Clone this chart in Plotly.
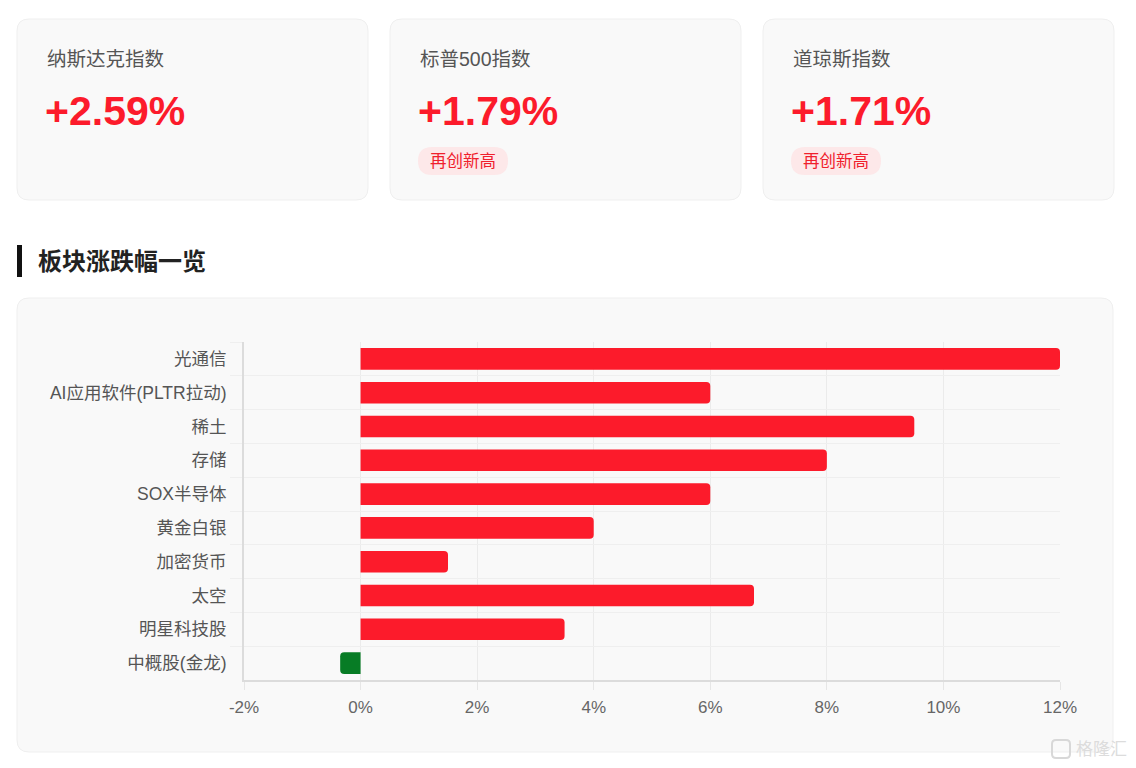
import plotly.graph_objects as go

# ---- data ----
index_names = ["纳斯达克指数", "标普500指数", "道琼斯指数"]
index_changes = ["+2.59%", "+1.79%", "+1.71%"]
index_badges = ["", "再创新高", "再创新高"]

sectors = ["光通信", "AI应用软件(PLTR拉动)", "稀土", "存储", "SOX半导体",
           "黄金白银", "加密货币", "太空", "明星科技股", "中概股(金龙)"]
sector_changes = [12.0, 6.0, 9.5, 8.0, 6.0, 4.0, 1.5, 6.75, 3.5, -0.35]
x_ticks = [-2, 0, 2, 4, 6, 8, 10, 12]
x_tick_labels = ["-2%", "0%", "2%", "4%", "6%", "8%", "10%", "12%"]

OFF = 8  # page body margin
W, H = 1128, 760
L, R, T, B = 244 - OFF, 76, 342 - OFF, 88
PW, PH = W - L - R, H - T - B

RED = "#fc1b2b"
GREEN = "#077c25"
FONT = "Liberation Sans, Noto Sans CJK SC, sans-serif"


def px(x):
    return (x - OFF - L) / PW


def py(y):
    return (H - B - (y - OFF)) / PH


def rrect(x0, y0, x1, y1, r):
    return (f"M {px(x0 + r)},{py(y0)} L {px(x1 - r)},{py(y0)} "
            f"Q {px(x1)},{py(y0)} {px(x1)},{py(y0 + r)} "
            f"L {px(x1)},{py(y1 - r)} Q {px(x1)},{py(y1)} {px(x1 - r)},{py(y1)} "
            f"L {px(x0 + r)},{py(y1)} Q {px(x0)},{py(y1)} {px(x0)},{py(y1 - r)} "
            f"L {px(x0)},{py(y0 + r)} Q {px(x0)},{py(y0)} {px(x0 + r)},{py(y0)} Z")


colors = [RED if v >= 0 else GREEN for v in sector_changes]

fig = go.Figure(go.Bar(
    x=sector_changes, y=sectors, orientation="h",
    marker=dict(color=colors, line=dict(width=0), cornerradius=4),
    width=0.64, hoverinfo="x+y",
))

shapes = []
annotations = []

# index cards
card_x = [17, 390, 763]
for i, x0 in enumerate(card_x):
    shapes.append(dict(type="path", xref="paper", yref="paper", layer="below",
                       path=rrect(x0, 19, x0 + 351, 200, 12),
                       fillcolor="#f9f9f9", line=dict(color="#efefef", width=1)))
    annotations.append(dict(xref="paper", yref="paper", x=px(x0 + 28), y=py(59),
                            text=index_names[i], showarrow=False, xanchor="left",
                            yanchor="middle", font=dict(family=FONT, size=19.5, color="#555555")))
    annotations.append(dict(xref="paper", yref="paper", x=px(x0 + 26), y=py(111),
                            text=f"<b>{index_changes[i]}</b>", showarrow=False, xanchor="left",
                            yanchor="middle", font=dict(family=FONT, size=41, color=RED)))
    if index_badges[i]:
        shapes.append(dict(type="path", xref="paper", yref="paper", layer="below",
                           path=rrect(x0 + 28, 147, x0 + 118, 175, 14),
                           fillcolor="#fde8e9", line=dict(width=0)))
        annotations.append(dict(xref="paper", yref="paper", x=px(x0 + 73), y=py(161),
                                text=index_badges[i], showarrow=False, xanchor="center",
                                yanchor="middle", font=dict(family=FONT, size=16.5, color="#f0202c")))

# section header
shapes.append(dict(type="rect", xref="paper", yref="paper", layer="above",
                   x0=px(17), x1=px(22), y0=py(245), y1=py(277),
                   fillcolor="#111111", line=dict(width=0)))
annotations.append(dict(xref="paper", yref="paper", x=px(36), y=py(261),
                        text="<b>板块涨跌幅一览</b>", showarrow=False, xanchor="left",
                        yanchor="middle", font=dict(family=FONT, size=24, color="#222222")))

# chart card
shapes.append(dict(type="path", xref="paper", yref="paper", layer="below",
                   path=rrect(17, 298, 1113, 752, 12),
                   fillcolor="#f9f9f9", line=dict(color="#efefef", width=1)))

# watermark
shapes.append(dict(type="path", xref="paper", yref="paper", layer="above",
                   path=rrect(1052, 740, 1070, 758, 4),
                   fillcolor="rgba(0,0,0,0)", line=dict(color="#d8d8d8", width=2)))
annotations.append(dict(xref="paper", yref="paper", x=px(1074), y=py(749),
                        text="格隆汇", showarrow=False, xanchor="left", yanchor="middle",
                        font=dict(family=FONT, size=17, color="#dcdcdc")))

fig.update_layout(
    width=W, height=H,
    margin=dict(l=L, r=R, t=T, b=B),
    paper_bgcolor="white", plot_bgcolor="#f9f9f9",
    showlegend=False,
    font=dict(family=FONT),
    shapes=shapes, annotations=annotations,
    xaxis=dict(range=[-2, 12], tickvals=x_ticks, ticktext=x_tick_labels,
               showgrid=True, gridcolor="#ebebeb", gridwidth=1,
               zeroline=False, showline=True, linecolor="#dcdcdc", linewidth=2,
               ticks="outside", ticklen=8, tickcolor="#e6e6e6",
               ticklabelstandoff=3,
               tickfont=dict(family=FONT, size=17, color="#666666"), fixedrange=True),
    yaxis=dict(autorange="reversed", categoryorder="array", categoryarray=sectors,
               tickson="boundaries", showgrid=True, gridcolor="#efefef",
               showline=True, linecolor="#dcdcdc", linewidth=2,
               ticks="outside", ticklen=12, tickcolor="#efefef",
               ticklabelstandoff=12,
               tickfont=dict(family=FONT, size=17.5, color="#555555"), fixedrange=True),
)

fig.write_html("out.html")
